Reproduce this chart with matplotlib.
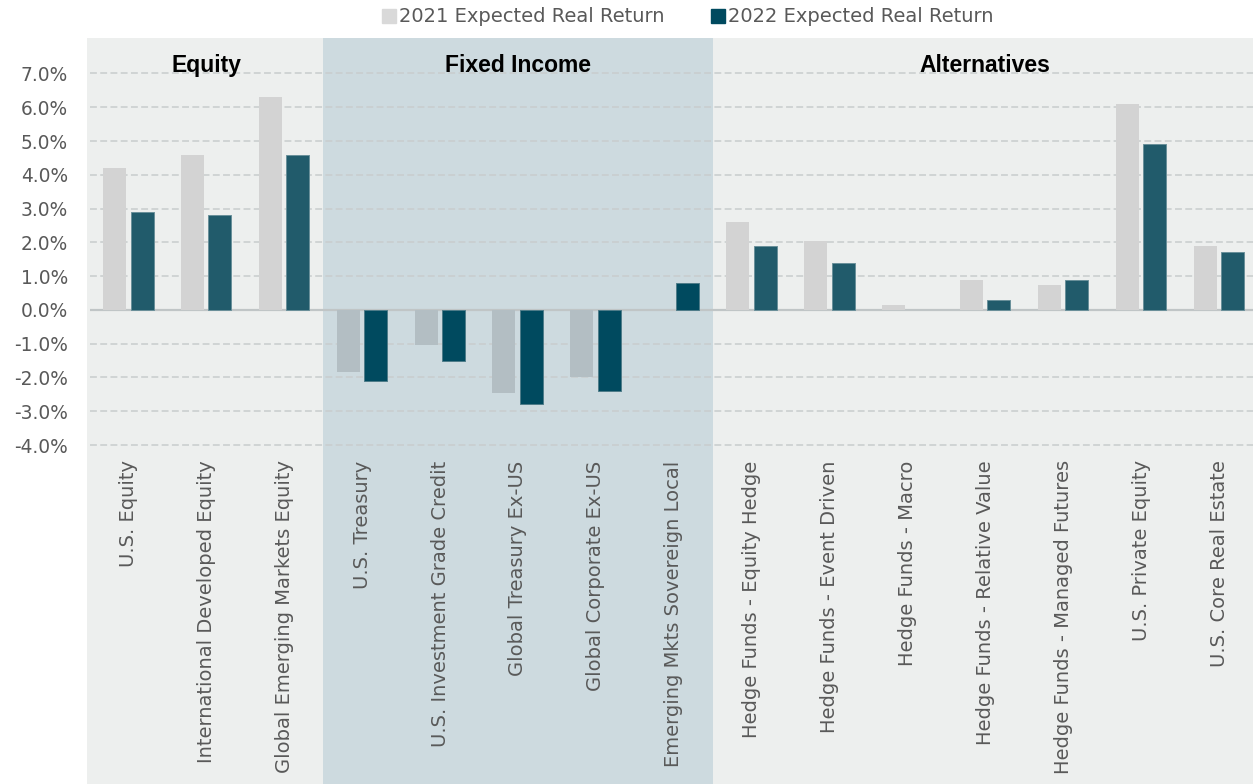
import matplotlib
matplotlib.use("Agg")
import matplotlib.pyplot as plt
import matplotlib.transforms as mtransforms
from matplotlib.patches import Rectangle
from matplotlib.lines import Line2D
import numpy as np

categories = [
    "U.S. Equity", "International Developed Equity", "Global Emerging Markets Equity",
    "U.S. Treasury", "U.S. Investment Grade Credit", "Global Treasury Ex-US",
    "Global Corporate Ex-US", "Emerging Mkts Sovereign Local",
    "Hedge Funds - Equity Hedge", "Hedge Funds - Event Driven", "Hedge Funds - Macro",
    "Hedge Funds - Relative Value", "Hedge Funds - Managed Futures",
    "U.S. Private Equity", "U.S. Core Real Estate",
]
ret_2021 = [4.2, 4.6, 6.3, -1.85, -1.05, -2.45, -2.0, 0.0,
            2.6, 2.05, 0.15, 0.9, 0.75, 6.1, 1.9]
ret_2022 = [2.9, 2.8, 4.6, -2.1, -1.5, -2.8, -2.4, 0.8,
            1.9, 1.4, 0.0, 0.3, 0.9, 4.9, 1.7]
series_names = ["2021 Expected Real Return", "2022 Expected Real Return"]
groups = ["Equity", "Fixed Income", "Alternatives"]
group_sizes = [3, 5, 7]
yticks = [7, 6, 5, 4, 3, 2, 1, 0, -1, -2, -3, -4]

plt.rcParams['font.family'] = ['DejaVu Sans']

W, H = 1253, 784
fig = plt.figure(figsize=(W / 100, H / 100), dpi=100)
fig.patch.set_facecolor('white')
ax_left, ax_right = 89.5, 1258
ax_top, ax_bot = 38, 448.4
ax = fig.add_axes([ax_left / W, 1 - ax_bot / H, (ax_right - ax_left) / W, (ax_bot - ax_top) / H])
ax.set_facecolor('none')

n = len(categories)
x = np.arange(n)
ax.set_xlim(-0.5, n - 0.5)
ax.set_ylim(-4.1, 8.05)

# background bands spanning plot + label area
trans = mtransforms.blended_transform_factory(ax.transData, fig.transFigure)
band_colors = ['#edefee', '#cddadf', '#edefee']
start = -0.5
bounds = []
for g, size, c in zip(groups, group_sizes, band_colors):
    r = Rectangle((start, 0), size, 1 - ax_top / H, transform=trans, facecolor=c,
                  edgecolor='none')
    fig.add_artist(r)
    r.set_zorder(-10)
    bounds.append((start, start + size))
    start += size
# fill tiny strip at far left of first band
fig.add_artist(Rectangle((87 / W, 0), 3 / W, 1 - ax_top / H, transform=fig.transFigure,
                         facecolor=band_colors[0], edgecolor='none', zorder=-11))
ax.set_zorder(1)

# gridlines
for t in yticks:
    if t == 0:
        ax.axhline(0, color='#c0c5c6', lw=1.6, zorder=2)
    else:
        ax.axhline(t, color='#c8cccd', lw=1.1, ls=(0, (4.5, 2.2)), zorder=1)

gi = []
for i, size in enumerate(group_sizes):
    gi += [i] * size
light, dark, dark_edge = [], [], []
for i in range(n):
    if gi[i] == 1:
        light.append('#b3bec3'); dark.append('#004a5f'); dark_edge.append('#4f7c89')
    else:
        light.append('#d3d3d3'); dark.append('#215b6b'); dark_edge.append('#6a909a')
dark_edge = [e if v != 0 else 'none' for e, v in zip(dark_edge, ret_2022)]

w = 0.295
ax.bar(x - 0.18, ret_2021, width=w, color=light, edgecolor='none', zorder=3)
ax.bar(x + 0.175, ret_2022, width=w, color=dark, edgecolor=dark_edge, lw=0.7, zorder=3)

fs = 14
ax.set_yticks(yticks)
ax.set_yticklabels([f"{t:.1f}%" for t in yticks], fontsize=13.4, color='#595959')
ax.set_xticks(x)
ax.set_xticklabels(categories, rotation=90, fontsize=fs, color='#595959', va='top', ha='center')
ax.tick_params(axis='both', length=0)
ax.tick_params(axis='x', pad=8.6)
ax.tick_params(axis='y', pad=15.5)
for s in ax.spines.values():
    s.set_visible(False)

for g, (a, b) in zip(groups, bounds):
    ax.text((a + b) / 2, 7.03, g, ha='center', va='baseline', fontsize=16.5,
            fontweight='bold', color='black', family=['Liberation Sans', 'DejaVu Sans'])

handles = [Line2D([], [], marker='s', ls='none', markersize=10, color='#d9d9d9'),
           Line2D([], [], marker='s', ls='none', markersize=10, color='#004a5f')]
fig.legend(handles, series_names, loc='center', bbox_to_anchor=(0.5487, 1 - 17 / H),
           ncol=2, frameon=False, fontsize=fs, labelcolor='#595959',
           handletextpad=0.12, columnspacing=2.35, handlelength=0.8,
           borderpad=0, borderaxespad=0)

fig.savefig('out.png', dpi=100, facecolor='white')
